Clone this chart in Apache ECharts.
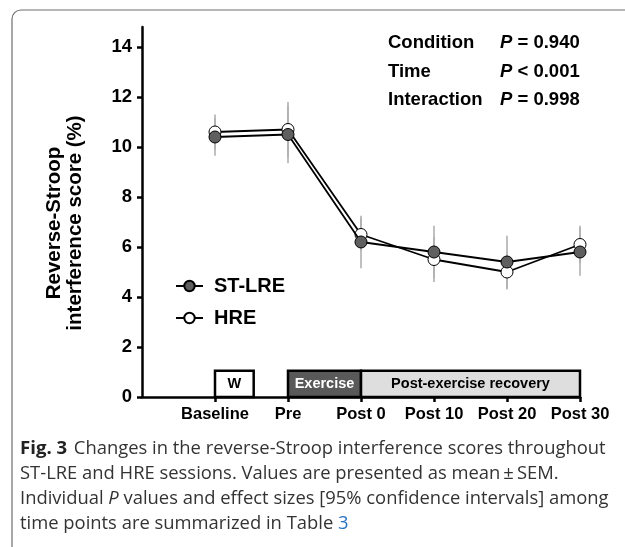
<!DOCTYPE html>
<html><head><meta charset="utf-8">
<script src="https://cdn.jsdelivr.net/npm/echarts@6/dist/echarts.min.js"></script>
<style>html,body{margin:0;padding:0;background:#fff}#c{width:625px;height:547px}</style>
</head><body><div id="c"></div>
<script>
const categories = ['Baseline', 'Pre', 'Post 0', 'Post 10', 'Post 20', 'Post 30'];
const stlreMean = [10.4, 10.5, 6.2, 5.8, 5.4, 5.8];
const stlreSem  = [0.75, 1.15, 1.05, 1.05, 1.05, 0.95];
const hreMean   = [10.6, 10.7, 6.5, 5.5, 5.0, 6.1];
const hreSem    = [0.7, 1.1, 0.65, 0.9, 0.7, 0.75];
const yTicks = [0, 2, 4, 6, 8, 10, 12, 14];
const phaseNames = ['W', 'Exercise', 'Post-exercise recovery'];
const phaseStart = [0, 1, 2];
const phaseEnd   = [0.53, 2, 5];
const statNames = ['Condition', 'Time', 'Interaction'];
const statOps   = ['=', '<', '='];
const statVals  = ['0.940', '0.001', '0.998'];

const F = '"Liberation Sans", Arial, sans-serif';
const CF = '"Open Sans", "Noto Sans", sans-serif';
const chart = echarts.init(document.getElementById('c'), null, {renderer: 'canvas'});

const phaseFill = ['#ffffff', '#595959', '#dedede'];
const phaseText = ['#000', '#fff', '#000'];
const markData = phaseNames.map((n, i) => [
  {name: n, xAxis: phaseStart[i], yAxis: 0,
   itemStyle: {color: phaseFill[i], borderColor: '#000', borderWidth: 2.5},
   label: {color: phaseText[i]}},
  {xAxis: phaseEnd[i], yAxis: 1.05}
]);

function errRender(params, api) {
  const a = api.coord([api.value(0), api.value(1)]);
  const b = api.coord([api.value(0), api.value(2)]);
  return {type: 'line', shape: {x1: a[0], y1: a[1], x2: b[0], y2: b[1]},
          style: {stroke: '#b0b0b0', lineWidth: 1.6}};
}

const graphics = [
  {type: 'rect', shape: {x: 12, y: 10, width: 700, height: 600, r: 9},
   style: {fill: 'none', stroke: '#6e6e6e', lineWidth: 1.2}, z: 0},
  {type: 'text', x: 65, y: 223, rotation: Math.PI / 2,
   style: {text: 'Reverse-Stroop\ninterference score (%)', font: 'bold 20.5px ' + F,
           fill: '#000', align: 'center', verticalAlign: 'middle', lineHeight: 21}}
];
statNames.forEach((n, i) => {
  graphics.push({type: 'text', x: 388, y: 43 + 28.5 * i,
    style: {text: n, font: 'bold 18.5px ' + F, fill: '#000', verticalAlign: 'middle'}});
  graphics.push({type: 'text', x: 500, y: 43 + 28.5 * i,
    style: {text: '{p|P}{n| ' + statOps[i] + ' ' + statVals[i] + '}', verticalAlign: 'middle',
      rich: {p: {font: 'italic bold 18.5px ' + F, fill: '#000'},
             n: {font: 'bold 18.5px ' + F, fill: '#000'}}}});
});
const capLines = [
  '{b|Fig. 3}  {t|Changes in the reverse-Stroop interference scores throughout}',
  '{t|ST-LRE and HRE sessions. Values are presented as mean\u2009±\u2009SEM.}',
  '{t|Individual }{i|P}{t| values and effect sizes [95% confidence intervals] among}',
  '{t|time points are summarized in Table }{l|3}'
];
capLines.forEach((s, i) => {
  graphics.push({type: 'text', x: 20, y: 449 + 25 * i,
    style: {text: s, verticalAlign: 'middle',
      rich: {b: {font: 'bold 18.6px ' + CF, fill: '#222'},
             t: {font: '18.4px ' + CF, fill: '#333'},
             i: {font: 'italic 18.4px ' + CF, fill: '#333'},
             l: {font: '18.4px ' + CF, fill: '#2b73c0'}}}});
});

chart.setOption({
  animation: false,
  backgroundColor: '#fff',
  grid: {left: 142, right: 45, top: 27, bottom: 150},
  legend: {
    data: ['ST-LRE', 'HRE'], orient: 'vertical', left: 170, top: 271,
    itemWidth: 27, itemHeight: 13, itemGap: 12,
    textStyle: {fontFamily: F, fontWeight: 'bold', fontSize: 20, color: '#000', padding: [0, 0, 0, 6]}
  },
  xAxis: {
    type: 'value', min: -1, max: 5,
    axisLine: {onZero: false, lineStyle: {color: '#000', width: 2.5}},
    axisTick: {customValues: [0, 1, 2, 3, 4, 5], length: 5, lineStyle: {color: '#000', width: 2.5}},
    axisLabel: {customValues: [0, 1, 2, 3, 4, 5], formatter: v => categories[v], margin: 9,
      fontFamily: F, fontWeight: 'bold', fontSize: 16.5, color: '#000'},
    splitLine: {show: false}
  },
  yAxis: {
    type: 'value', min: 0, max: 14.8,
    axisLine: {show: true, onZero: false, lineStyle: {color: '#000', width: 2.5}},
    axisTick: {show: true, customValues: yTicks, length: 5, lineStyle: {color: '#000', width: 2.5}},
    axisLabel: {customValues: yTicks, margin: 10, fontFamily: F, fontWeight: 'bold', fontSize: 18.5, color: '#000'},
    splitLine: {show: false}
  },
  graphic: graphics,
  series: [
    {type: 'custom', name: 'errH', renderItem: errRender, z: 1, silent: true,
     data: hreMean.map((m, i) => [i, m - hreSem[i], m + hreSem[i]])},
    {type: 'custom', name: 'errS', renderItem: errRender, z: 1, silent: true,
     data: stlreMean.map((m, i) => [i, m - stlreSem[i], m + stlreSem[i]])},
    {type: 'line', name: 'HRE', z: 3, data: hreMean.map((m, i) => [i, m]),
     symbol: 'circle', symbolSize: 12,
     lineStyle: {color: '#000', width: 1.8},
     itemStyle: {color: '#fff', borderColor: '#000', borderWidth: 1}},
    {type: 'line', name: 'ST-LRE', z: 4, data: stlreMean.map((m, i) => [i, m]),
     symbol: 'circle', symbolSize: 12,
     lineStyle: {color: '#000', width: 1.8},
     itemStyle: {color: '#5f5f5f', borderColor: '#000', borderWidth: 1},
     markArea: {silent: true, data: markData,
       label: {show: true, position: 'inside', fontFamily: F, fontWeight: 'bold', fontSize: 14.5}}}
  ]
});
</script></body></html>
